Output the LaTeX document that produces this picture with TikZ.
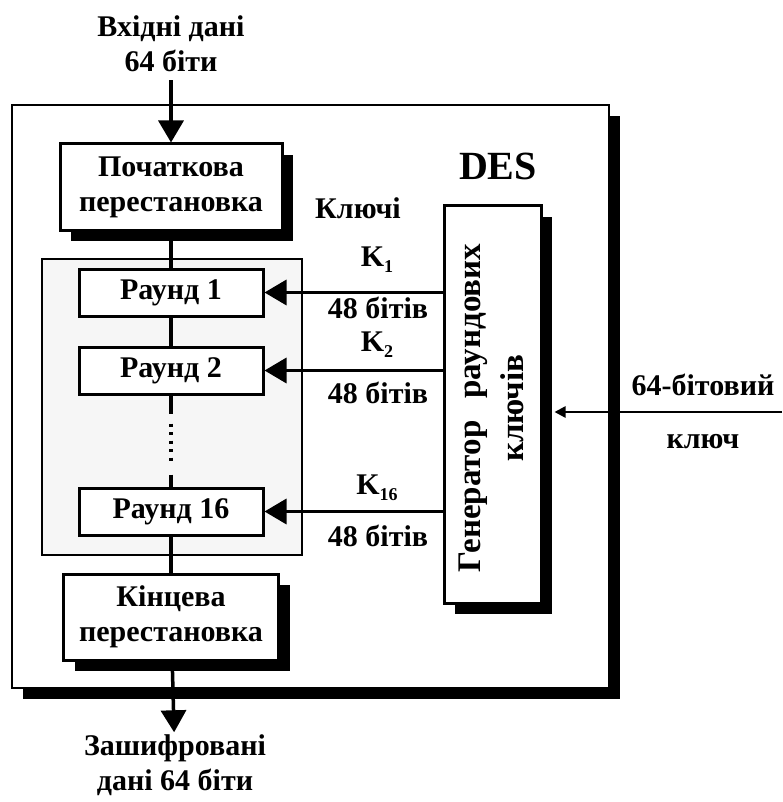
\documentclass[tikz,border=0pt]{standalone}
\usepackage{fontspec}
\setmainfont{Liberation Serif}
\usetikzlibrary{arrows.meta,shadows,calc}

\newcommand{\kluchk}[1]{K\raisebox{-6pt}{\fontsize{18}{18}\selectfont #1}}

\tikzset{
  blok/.style={draw, line width=3pt, fill=white, align=center, inner sep=0pt,
    drop shadow={shadow xshift=11pt, shadow yshift=-11pt, fill=black, opacity=1}},
  raund/.style={draw, line width=3pt, fill=white, inner sep=0pt,
    minimum width=184pt, minimum height=47pt},
  lin/.style={line width=3.5pt},
  strilka/.style={line width=3.5pt, -{Triangle[width=25pt,length=22pt]}},
  malastr/.style={line width=2.5pt, -{Triangle[width=11pt,length=11pt]}},
  napys/.style={align=center, inner sep=2pt},
  kbit/.style={inner sep=0pt, anchor=base, text height=21pt, text depth=1pt}
}

\begin{document}
\begin{tikzpicture}[x=1pt, y=-1pt, font=\bfseries\fontsize{30}{35}\selectfont]
  \useasboundingbox (0,0) rectangle (782,802);

  % outer block and the group of rounds
  \node[blok, line width=2.5pt, minimum width=597pt, minimum height=583pt] (des) at (310.5,396.5) {};
  \node[draw, line width=1.5pt, fill=gray!7, minimum width=260pt, minimum height=296pt] (grupa) at (172,407) {};

  \node[blok, minimum width=222pt, minimum height=86pt] (poch) at (171,187) {Початкова\\перестановка};
  \node[raund] (r1) at (171,292.5) {Раунд 1};
  \node[raund] (r2) at (171,370.5) {Раунд 2};
  \node[raund] (r16) at (171,511.5) {Раунд 16};
  \node[blok, minimum width=215pt, minimum height=86pt] (kin) at (171,617) {Кінцева\\перестановка};
  \node[blok, minimum width=97pt, minimum height=397pt] (gen) at (492.5,404.5) {};
  \node[rotate=90, align=center, font=\bfseries\fontsize{33}{43}\selectfont] (gentxt) at (491,408)
    {Генератор\hspace{14pt} раундових\\ключів};

  % labels
  \node[napys] (vkhid) at (171,44) {Вхідні дані\\64 біти};
  \node[napys] (zash) at (175,765) {Зашифровані\\дані 64 біти};
  \node[napys, font=\bfseries\fontsize{40}{48}\selectfont] (deslab) at (498,166) {DES};
  \node[napys] (kljuchi) at (358,208) {Ключі};
  \node[kbit] (k1) at (377,266) {\kluchk{1}};
  \node[kbit] (b1) at (378,318) {48 бітів};
  \node[kbit] (k2) at (377,351) {\kluchk{2}};
  \node[kbit] (b2) at (378,403) {48 бітів};
  \node[kbit] (k16) at (377,494) {\kluchk{16}};
  \node[kbit] (b16) at (378,546) {48 бітів};
  \node[napys] (kl64) at (703,385) {64-бітовий};
  \node[napys] (kl) at (703,442) {ключ};

  % data path
  \draw[strilka, shorten <=6pt] (vkhid) -- (poch);
  \draw[lin] (poch) -- (r1);
  \draw[lin] (r1) -- (r2);
  \draw[lin, dash pattern=on 18pt off 10pt on 3pt off 5.5pt on 3pt off 5.5pt on 3pt off 5.5pt on 3pt off 5.5pt on 3pt off 14pt on 30pt] (r2) -- (r16);
  \draw[lin] (r16) -- (kin);
  \draw[strilka] (kin) -- (zash);

  % round keys
  \draw[strilka] (r1 -| gen.west) -- (r1);
  \draw[strilka] (r2 -| gen.west) -- (r2);
  \draw[strilka] (r16 -| gen.west) -- (r16);

  % input key
  \coordinate (vkh) at (782,412);
  \draw[malastr] (vkh) -- ($(vkh -| gen.east)+(12,0)$);
\end{tikzpicture}
\end{document}
